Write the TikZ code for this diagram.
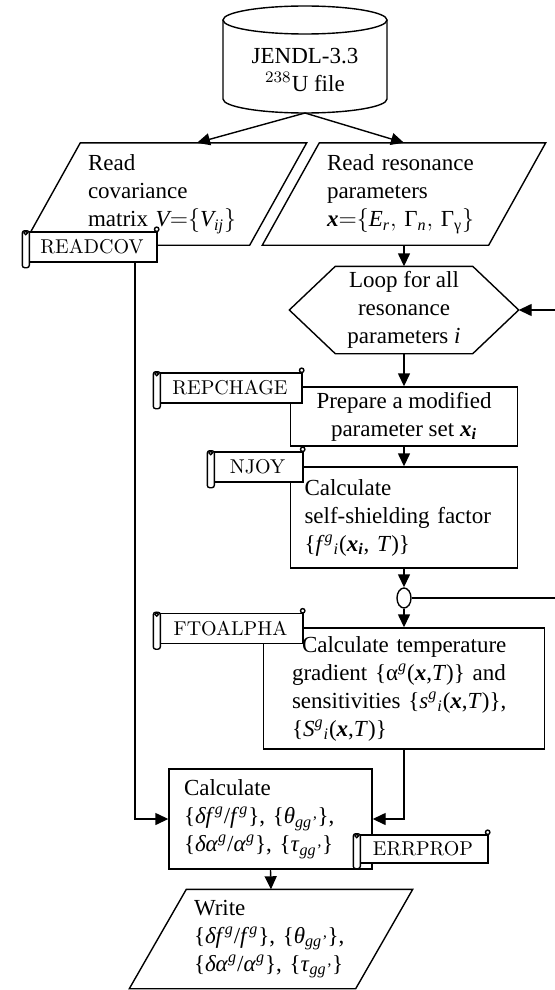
\documentclass[tikz,border=0pt]{standalone}
\usepackage{amsmath}
\usepackage{fontspec}
\setmainfont{Liberation Serif}
\usepackage{tikz}
\usetikzlibrary{positioning, arrows.meta, shapes.geometric, calc}

\newcommand{\mi}[1]{\textit{#1}}
\newcommand{\vecx}{\textbf{\textit{x}}}
% outline of an input/output parallelogram around node #1
\newcommand{\drawio}[1]{%
  \draw ([xshift=28.5pt]#1.north west) -- (#1.north east) -- ([xshift=-28.5pt]#1.south east) -- (#1.south west) -- cycle;}
% rolled end of a subroutine scroll
\newcommand{\scrollroll}[1]{%
  \draw[fill=white, rounded corners=1.2pt] ([xshift=-2pt,yshift=0.3pt]#1.north west) rectangle ([xshift=1.5pt,yshift=-2.5pt]#1.south west);
  \draw[fill=white] ([xshift=-0.3pt,yshift=-0.8pt]#1.north west) circle (0.9pt);
  \draw[fill=white] ([xshift=-0.5pt,yshift=1pt]#1.north east) circle (1.1pt);}

\begin{document}
\begin{tikzpicture}[
    x=0.5pt, y=-0.5pt, line width=0.7pt,
    font=\fontsize{11.5}{14}\selectfont,
    arr/.style={-{Triangle[length=6.5pt,width=6pt]}},
    box/.style={rectangle, draw, align=left, inner ysep=1pt},
    io/.style={align=left, text width=77pt, minimum width=141pt, minimum height=50.5pt, inner sep=0},
    scrollbox/.style={rectangle, draw, fill=white, font=\fontfamily{lmr}\fontsize{10}{12}\selectfont,
                      minimum height=15pt, inner sep=0}
]
    \useasboundingbox (0,0) rectangle (555,990);

    % Data file
    \draw (223,20) -- (223,99) arc[start angle=180, end angle=360, x radius=41pt, y radius=7pt] -- (387,20);
    \draw (305,20) ellipse [x radius=41pt, y radius=7pt];
    \node[align=center] (jendl) at (305,70) {JENDL-3.3\\$^{238}$U file};
    \coordinate (jbot) at (305,113);

    % Input
    \node[io] (rcov) at (165,194) {Read\\covariance\\matrix $\mi{V}{=}\{\mi{V}_{\mi{ij}}\}$};
    \drawio{rcov}
    \node[io] (rres) at (404,194)
        {Read resonance\\parameters\\$\vecx{=}\{\mi{E}_{\mi{r}}{,}\ \text{Γ}_{\mi{n}}{,}\ \text{Γ}_{\text{γ}}\}$};
    \drawio{rres}

    % Loop
    \node[minimum width=114pt, minimum height=43pt, inner sep=0, align=center] (loop) at (404,310)
        {Loop for all\\resonance\\parameters \mi{i}};
    \draw (loop.west) -- ([xshift=23pt]loop.north west) -- ([xshift=-23pt]loop.north east) -- (loop.east)
          -- ([xshift=-23pt]loop.south east) -- ([xshift=23pt]loop.south west) -- cycle;

    % Processing boxes
    \node[box, align=center, minimum width=113.5pt, minimum height=29.5pt] (prep) at (404,416.5)
        {Prepare a modified\\parameter set \vecx$_{\textbf{\textit{i}}}$};
    \node[box, text width=99.5pt, inner xsep=7pt, minimum height=50.5pt] (selfs) at (404,517.5)
        {Calculate\\self-shielding factor\\\{\mi{f}$^{\mi{g}}{}_{\mi{i}}$(\vecx$_{\textbf{\textit{i}}}$, \mi{T})\}};
    \node[draw, ellipse, minimum width=7pt, minimum height=10pt, inner sep=0] (join) at (404,598) {};
    \node[box, text width=112pt, inner xsep=14.25pt, minimum height=60.5pt] (grad) at (404,688.5)
        {\hspace*{5pt}Calculate temperature\\gradient \{α$^{\mi{g}}$(\vecx,\mi{T})\} and\\sensitivities \{\mi{s}$^{\mi{g}}{}_{\mi{i}}$(\vecx,\mi{T})\},\\\{\mi{S}$^{\mi{g}}{}_{\mi{i}}$(\vecx,\mi{T})\}};
    \node[box, text width=86.5pt, inner xsep=7.5pt, minimum height=50pt] (errc) at (270.5,819)
        {Calculate\\\{\mi{δf}$^{\mi{g}}$/\mi{f}$^{\mi{g}}$\}, \{\mi{θ}$_{\mi{gg'}}$\},\\\{\mi{δα}$^{\mi{g}}$/\mi{α}$^{\mi{g}}$\}, \{\mi{τ}$_{\mi{gg'}}$\}};

    % Output
    \node[io, minimum height=49pt] (wout) at (271,939)
        {Write\\\{\mi{δf}$^{\mi{g}}$/\mi{f}$^{\mi{g}}$\}, \{\mi{θ}$_{\mi{gg'}}$\},\\\{\mi{δα}$^{\mi{g}}$/\mi{α}$^{\mi{g}}$\}, \{\mi{τ}$_{\mi{gg'}}$\}};
    \drawio{wout}

    % Subroutines
    \node[scrollbox, minimum width=65pt] (readcov) at (92,247) {READCOV};
    \scrollroll{readcov}
    \node[scrollbox, minimum width=72pt] (repchage) at (230,388) {REPCHAGE};
    \scrollroll{repchage}
    \node[scrollbox, minimum width=45.5pt] (njoy) at (257.5,467) {NJOY};
    \scrollroll{njoy}
    \node[scrollbox, minimum width=72.5pt] (ftoalpha) at (230.5,628.5) {FTOALPHA};
    \scrollroll{ftoalpha}
    \node[scrollbox, minimum width=65pt, minimum height=14pt] (errprop) at (423,849) {ERRPROP};
    \scrollroll{errprop}

    % Connectors
    \coordinate (retout) at (555,598);
    \coordinate (retin) at (555,310);
    \draw[arr] (jbot) -- ([xshift=16pt]rcov.north);
    \draw[arr] (jbot) -- (rres.north);
    \draw[arr] (rres.south) -- (loop.north);
    \draw[arr] (loop.south) -- (prep.north);
    \draw[arr] (prep.south) -- (selfs.north);
    \draw[arr] (selfs.south) -- (join.north);
    \draw[arr] (join.south) -- (grad.north);
    \draw (join.east) -- (retout);
    \draw[arr] (retin) -- (loop.east);
    \draw[arr] ([xshift=21.5pt]readcov.south) |- (errc.west);
    \draw[arr] (grad.south) |- (errc.east);
    \draw[arr] (errc.south) -- (wout.north);
\end{tikzpicture}
\end{document}
